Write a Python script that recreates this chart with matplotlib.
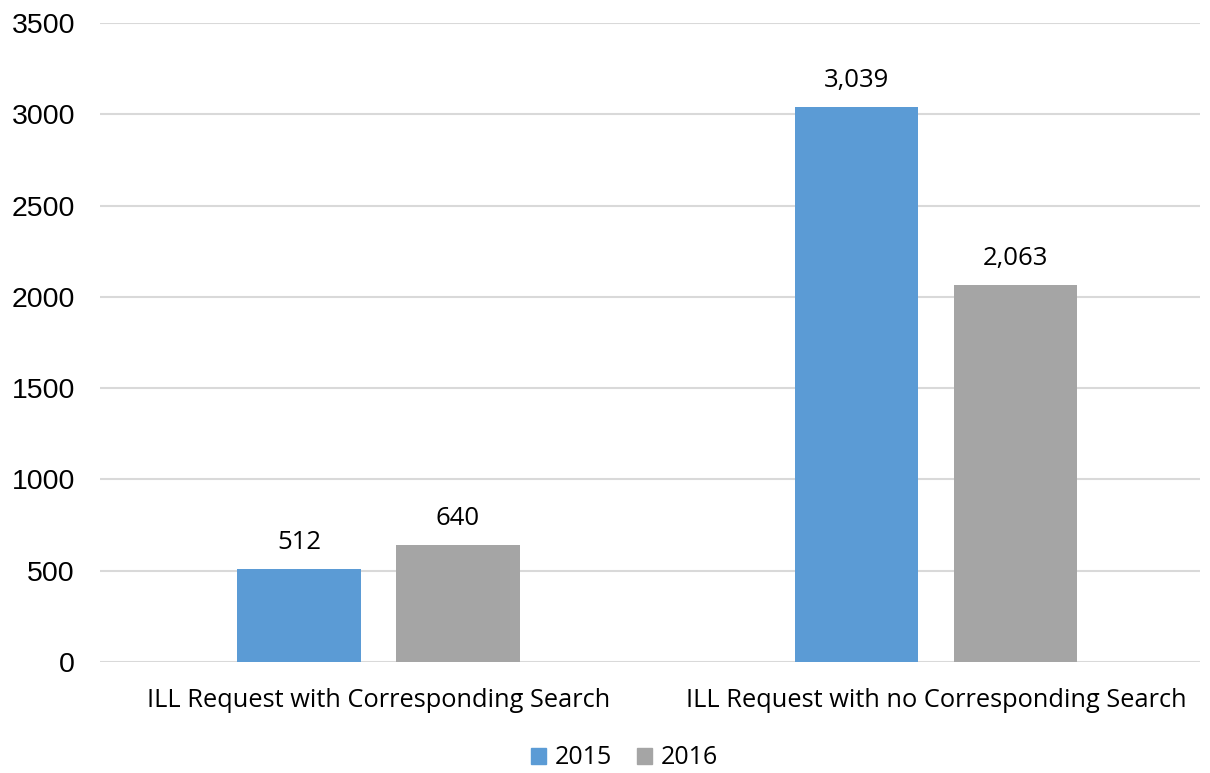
import numpy as np
import matplotlib
matplotlib.use("Agg")
import matplotlib.pyplot as plt
from matplotlib.patches import Patch

# data
categories = ["ILL Request with Corresponding Search", "ILL Request with no Corresponding Search"]
series_names = ["2015", "2016"]
values_2015 = [512, 3039]
values_2016 = [640, 2063]
colors = ["#5B9BD5", "#A5A5A5"]
yticks = [0, 500, 1000, 1500, 2000, 2500, 3000, 3500]

label_font = "Open Sans"
tick_font = "Liberation Sans"

fig = plt.figure(figsize=(12.1, 7.73), dpi=100)
ax = fig.add_axes([100 / 1210, 1 - 662 / 773, 1100 / 1210, 639 / 773])

x = np.arange(len(categories))
width = 0.222
offset = 0.1426
b1 = ax.bar(x - offset, values_2015, width, color=colors[0], zorder=3)
b2 = ax.bar(x + offset, values_2016, width, color=colors[1], zorder=3)

for bars in (b1, b2):
    for rect in bars:
        h = rect.get_height()
        ax.annotate(f"{h:,.0f}", (rect.get_x() + rect.get_width() / 2, h),
                    xytext=(0, 10), textcoords="offset points",
                    ha="center", va="bottom", fontsize=18.5, family=label_font)

ax.set_ylim(0, 3500)
ax.set_xlim(-0.4996, 1.4735)
ax.set_yticks(yticks)
ax.set_yticklabels([str(t) for t in yticks], fontsize=20.5, family=tick_font)
ax.set_xticks(x)
ax.set_xticklabels(categories, fontsize=18.3, family=label_font)
ax.tick_params(axis="both", length=0)
ax.tick_params(axis="y", pad=18)
ax.tick_params(axis="x", pad=19)
ax.yaxis.grid(True, color="#D9D9D9", linewidth=1.5, zorder=0)
for s in ax.spines.values():
    s.set_visible(False)

handles = [Patch(color=c, label=n) for c, n in zip(colors, series_names)]
fig.legend(handles=handles, loc="center", bbox_to_anchor=(625 / 1210, 1 - 758 / 773),
           ncol=2, frameon=False, handlelength=0.6, handleheight=0.6,
           handletextpad=0.35, columnspacing=1.0,
           prop={"family": label_font, "size": 18})

fig.savefig("out.png", dpi=100)
